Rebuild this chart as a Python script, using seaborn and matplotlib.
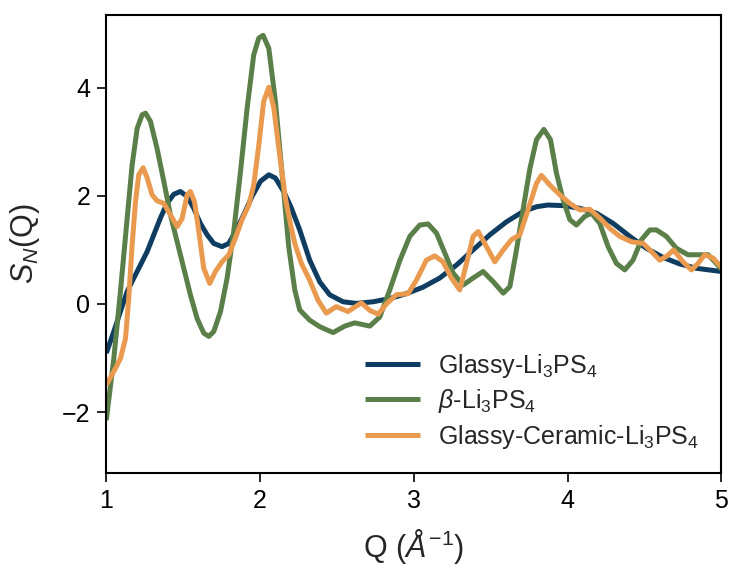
import matplotlib
matplotlib.use("Agg")
import matplotlib.pyplot as plt
import seaborn as sns

# Neutron structure factor S_N(Q) for three Li3PS4 phases
q_glassy = [1.00, 1.049, 1.092, 1.136, 1.179, 1.222, 1.266, 1.309, 1.352, 1.395,
            1.439, 1.482, 1.526, 1.569, 1.612, 1.656, 1.699, 1.753, 1.797, 1.84,
            1.894, 1.948, 2.003, 2.057, 2.10, 2.154, 2.20, 2.258, 2.323, 2.388,
            2.453, 2.54, 2.627, 2.735, 2.844, 2.952, 3.06, 3.169, 3.278, 3.386,
            3.495, 3.603, 3.711, 3.80, 3.871, 3.971, 4.08, 4.188, 4.297, 4.405,
            4.513, 4.622, 4.73, 4.838, 5.00]
s_glassy = [-0.91, -0.51, -0.14, 0.23, 0.48, 0.72, 0.97, 1.28, 1.59, 1.86,
            2.03, 2.08, 1.99, 1.77, 1.49, 1.28, 1.12, 1.06, 1.12, 1.34,
            1.65, 1.99, 2.27, 2.39, 2.33, 2.08, 1.80, 1.37, 0.81, 0.41,
            0.17, 0.04, 0.01, 0.04, 0.10, 0.19, 0.31, 0.48, 0.72, 1.00,
            1.28, 1.52, 1.71, 1.80, 1.83, 1.82, 1.77, 1.68, 1.49, 1.25,
            1.03, 0.86, 0.74, 0.66, 0.60]

q_beta = [1.00, 1.049, 1.092, 1.136, 1.168, 1.201, 1.233, 1.255, 1.287, 1.33,
          1.374, 1.417, 1.461, 1.504, 1.547, 1.591, 1.634, 1.667, 1.699, 1.743,
          1.786, 1.829, 1.873, 1.916, 1.959, 1.992, 2.02, 2.057, 2.10, 2.144,
          2.187, 2.226, 2.258, 2.323, 2.388, 2.475, 2.551, 2.616, 2.714, 2.779,
          2.844, 2.91, 2.974, 3.039, 3.093, 3.148, 3.202, 3.256, 3.321, 3.386,
          3.451, 3.517, 3.582, 3.625, 3.668, 3.711, 3.755, 3.798, 3.846, 3.889,
          3.928, 3.971, 4.015, 4.058, 4.112, 4.156, 4.21, 4.264, 4.318, 4.372,
          4.426, 4.481, 4.535, 4.578, 4.643, 4.708, 4.784, 4.86, 4.914, 4.968,
          5.00]
s_beta = [-2.15, -1.01, 0.23, 1.59, 2.57, 3.25, 3.50, 3.53, 3.38, 2.88,
          2.27, 1.65, 1.15, 0.66, 0.17, -0.27, -0.54, -0.60, -0.51, -0.14,
          0.48, 1.34, 2.45, 3.62, 4.61, 4.92, 4.97, 4.73, 3.75, 2.39,
          1.05, 0.26, -0.11, -0.30, -0.42, -0.53, -0.41, -0.35, -0.41, -0.24,
          0.26, 0.81, 1.25, 1.46, 1.48, 1.31, 0.94, 0.57, 0.35, 0.48,
          0.60, 0.41, 0.20, 0.32, 1.00, 1.75, 2.50, 3.04, 3.23, 3.04,
          2.42, 1.93, 1.56, 1.46, 1.62, 1.68, 1.49, 1.06, 0.75, 0.63,
          0.81, 1.19, 1.37, 1.37, 1.25, 1.03, 0.91, 0.91, 0.91, 0.75,
          0.64]

q_ceramic = [1.00, 1.049, 1.092, 1.125, 1.146, 1.168, 1.19, 1.211, 1.24, 1.266,
             1.298, 1.33, 1.374, 1.417, 1.461, 1.493, 1.526, 1.547, 1.574, 1.602,
             1.634, 1.673, 1.71, 1.753, 1.797, 1.84, 1.883, 1.927, 1.959, 1.992,
             2.024, 2.057, 2.09, 2.122, 2.165, 2.20, 2.226, 2.269, 2.323, 2.377,
             2.431, 2.496, 2.572, 2.659, 2.714, 2.768, 2.822, 2.887, 2.963, 3.017,
             3.082, 3.136, 3.19, 3.245, 3.299, 3.343, 3.386, 3.419, 3.473, 3.527,
             3.582, 3.636, 3.69, 3.744, 3.798, 3.83, 3.885, 3.95, 4.015, 4.08,
             4.145, 4.21, 4.275, 4.34, 4.416, 4.492, 4.546, 4.60, 4.643, 4.69,
             4.751, 4.806, 4.849, 4.892, 4.946, 5.00]
s_ceramic = [-1.50, -1.25, -1.01, -0.64, 0.10, 1.09, 1.89, 2.39, 2.52, 2.33,
             2.02, 1.91, 1.86, 1.65, 1.43, 1.58, 2.02, 2.08, 1.89, 1.34,
             0.66, 0.38, 0.60, 0.78, 0.91, 1.22, 1.56, 1.83, 2.20, 2.94,
             3.75, 4.01, 3.62, 2.88, 1.96, 1.45, 1.12, 0.75, 0.44, 0.07,
             -0.17, -0.05, -0.14, 0.02, -0.12, -0.19, 0.00, 0.17, 0.19, 0.44,
             0.81, 0.89, 0.78, 0.48, 0.26, 0.75, 1.25, 1.34, 1.06, 0.78,
             1.00, 1.19, 1.28, 1.75, 2.23, 2.38, 2.20, 2.02, 1.86, 1.74,
             1.75, 1.59, 1.40, 1.25, 1.15, 1.12, 0.97, 0.81, 0.88, 1.00,
             0.78, 0.63, 0.75, 0.91, 0.85, 0.68]

labels = ["Glassy-Li$_3$PS$_4$", r"$\beta$-Li$_3$PS$_4$",
          "Glassy-Ceramic-Li$_3$PS$_4$"]
colors = ["#0f3d62", "#5a7f48", "#e99a4f"]

sns.set_style("ticks")
plt.rcParams["font.family"] = ["Liberation Sans", "DejaVu Sans"]
plt.rcParams["mathtext.fontset"] = "custom"
plt.rcParams["mathtext.rm"] = "Liberation Sans"
plt.rcParams["mathtext.it"] = "Liberation Sans:italic"
plt.rcParams["mathtext.bf"] = "Liberation Sans:bold"

fig, ax = plt.subplots(figsize=(7.33, 5.70), dpi=100)
fig.subplots_adjust(left=0.145, right=0.984, top=0.974, bottom=0.170)

for q, s, lab, c in zip([q_glassy, q_beta, q_ceramic],
                        [s_glassy, s_beta, s_ceramic], labels, colors):
    sns.lineplot(x=q, y=s, ax=ax, color=c, lw=3.6, label=lab, sort=False,
                 solid_joinstyle="round", solid_capstyle="butt")

ax.set_xlim(1, 5)
ax.set_ylim(-3.13, 5.35)
ax.set_xticks([1, 2, 3, 4, 5])
ax.set_yticks([-2, 0, 2, 4])
ax.tick_params(axis="both", labelsize=18, length=6.5, width=1.2, pad=5,
               colors="black")
for sp in ax.spines.values():
    sp.set_linewidth(1.5)
    sp.set_color("black")

ax.set_xlabel(r"Q ($\AA^{-1}$)", fontsize=22, labelpad=10)
ax.set_ylabel(r"$S_N$(Q)", fontsize=22, labelpad=14)

leg = ax.legend(loc="lower right", frameon=False, fontsize=18,
                handlelength=2.2, handletextpad=0.7, borderaxespad=0.5,
                labelspacing=0.3)
for line in leg.get_lines():
    line.set_linewidth(3.6)

fig.savefig("out.png", dpi=100)
